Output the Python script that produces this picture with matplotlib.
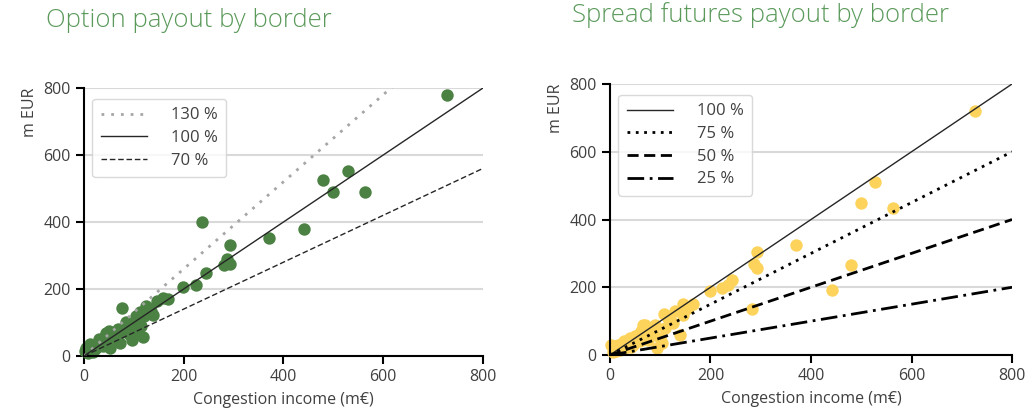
import matplotlib.pyplot as plt
import numpy as np

plt.rcParams['font.family'] = ['Open Sans', 'DejaVu Sans']

# option payout per border (congestion income vs payout, m EUR)
opt_x = [728, 563, 529, 500, 480, 441, 371, 293, 293, 287, 281, 244, 237, 224, 198,
         169, 159, 146, 139, 129, 125, 120, 118, 112, 108, 105, 100, 96, 92, 88, 85,
         80, 76, 72, 68, 62, 58, 52, 50, 47, 44, 40, 36, 32, 28, 24, 20, 15, 12, 8, 5, 3,
         135, 115, 102, 90, 64, 55, 38, 30, 18, 10]
opt_y = [780, 490, 552, 489, 524, 380, 353, 331, 276, 291, 271, 249, 400, 212, 207,
         169, 174, 164, 121, 144, 150, 118, 57, 130, 110, 120, 95, 48, 85, 90, 100,
         75, 142, 39, 80, 45, 70, 24, 75, 55, 70, 40, 50, 45, 35, 25, 30, 20, 35, 10, 25, 15,
         135, 90, 70, 65, 55, 60, 30, 50, 12, 20]

# spread futures payout per border
fut_x = [727, 563, 528, 500, 480, 442, 371, 293, 293, 287, 282, 243, 235, 223, 199,
         166, 146, 146, 139, 130, 120, 115, 110, 103, 100, 93, 90, 85, 80, 70, 66,
         60, 55, 50, 45, 40, 35, 30, 25, 20, 15, 10, 5, 3,
         155, 125, 108, 75, 62, 42, 28, 12]
fut_y = [721, 434, 510, 449, 265, 193, 324, 304, 257, 270, 137, 221, 206, 199, 189,
         152, 152, 118, 59, 130, 100, 110, 80, 35, 50, 21, 90, 70, 60, 88, 88,
         40, 60, 55, 30, 50, 45, 20, 35, 15, 30, 25, 10, 30,
         140, 95, 120, 45, 70, 25, 40, 12]

opt_levels = [1.3, 1.0, 0.7]
opt_labels = ['130 %', '100 %', '70 %']
fut_levels = [1.0, 0.75, 0.5, 0.25]
fut_labels = ['100 %', '75 %', '50 %', '25 %']

title_col = '#5b9a5b'
tick_col = '#404040'


def style(ax):
    ax.set_xlim(0, 800)
    ax.set_ylim(0, 800)
    ax.set_xticks([0, 200, 400, 600, 800])
    ax.set_yticks([0, 200, 400, 600, 800])
    ax.spines['top'].set_visible(False)
    ax.spines['right'].set_visible(False)
    ax.spines['left'].set_linewidth(1.5)
    ax.spines['bottom'].set_linewidth(1.5)
    ax.yaxis.grid(True, color='#d9d9d9', linewidth=1.5)
    ax.set_axisbelow(True)
    ax.tick_params(direction='out', length=6, width=1.5, colors='black',
                   labelcolor=tick_col, labelsize=11.5)
    ax.set_xlabel('Congestion income (m€)', color=tick_col, fontsize=11.5, labelpad=5)
    ax.set_ylabel('m EUR', color=tick_col, fontsize=11.5, loc='top')


fig = plt.figure(figsize=(10.29, 4.19), dpi=100)
ax1 = fig.add_axes([0.0816, 0.1504, 0.3878, 0.6396])
ax2 = fig.add_axes([0.5928, 0.1527, 0.3907, 0.6468])

xx = np.array([0, 800])

# left panel
ax1.scatter(opt_x, opt_y, s=80, color='#4b8243', zorder=2, clip_on=False, linewidths=0)
styles1 = [dict(color='#a6a6a6', ls=(0, (1, 2.5)), lw=2),
           dict(color='#262626', ls='-', lw=1),
           dict(color='#262626', ls=(0, (4, 2)), lw=1)]
for k, lab, st in zip(opt_levels, opt_labels, styles1):
    ax1.plot(xx, k * xx, label=lab, zorder=3, **st)
style(ax1)
ax1.legend(loc='upper left', bbox_to_anchor=(0.0, 0.99), fontsize=12, frameon=True,
           edgecolor='#d0d0d0', handlelength=2.8, handletextpad=1.4,
           labelcolor=tick_col, borderpad=0.5, labelspacing=0.4)

# right panel
ax2.scatter(fut_x, fut_y, s=80, color='#fdd35c', zorder=2, clip_on=False, linewidths=0)
styles2 = [dict(color='#262626', ls='-', lw=1),
           dict(color='black', ls=(0, (1, 2)), lw=2),
           dict(color='black', ls=(0, (4, 2)), lw=2),
           dict(color='black', ls=(0, (6, 2, 1, 2)), lw=2)]
for k, lab, st in zip(fut_levels, fut_labels, styles2):
    ax2.plot(xx, k * xx, label=lab, zorder=3, **st)
style(ax2)
ax2.legend(loc='upper left', bbox_to_anchor=(0.0, 0.99), fontsize=12, frameon=True,
           edgecolor='#d0d0d0', handlelength=2.8, handletextpad=1.4,
           labelcolor=tick_col, borderpad=0.5, labelspacing=0.4)

fig.text(0.184, 0.95, 'Option payout by border', color=title_col, fontsize=18.5,
         ha='center', va='center', fontweight='light')
fig.text(0.739, 0.965, 'Spread futures payout by border', color=title_col, fontsize=18.5,
         ha='center', va='center', fontweight='light')

fig.savefig('out.png', dpi=100)
